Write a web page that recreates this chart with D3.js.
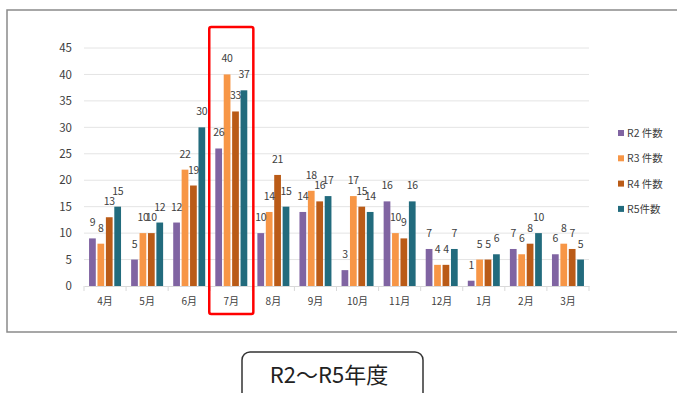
<!DOCTYPE html>
<html>
<head>
<meta charset="utf-8">
<script src="https://cdn.jsdelivr.net/npm/d3@7"></script>
<style>
    body { margin: 0; background: #fff; }
    text { font-family: "Noto Sans CJK JP", "Noto Sans", sans-serif; fill: #404040; }
</style>
</head>
<body>
<div id="chart-area"></div>
<script>
// months (fiscal year order) and the four series
const months = ["4月", "5月", "6月", "7月", "8月", "9月", "10月", "11月", "12月", "1月", "2月", "3月"];
const seriesNames = ["R2 件数", "R3 件数", "R4 件数", "R5件数"];
const r2 = [9, 5, 12, 26, 10, 14, 3, 16, 7, 1, 7, 6];
const r3 = [8, 10, 22, 40, 14, 18, 17, 10, 4, 5, 6, 8];
const r4 = [13, 10, 19, 33, 21, 16, 15, 9, 4, 5, 8, 7];
const r5 = [15, 12, 30, 37, 15, 17, 14, 16, 7, 6, 10, 5];
const yTicks = [0, 5, 10, 15, 20, 25, 30, 35, 40, 45];
const highlightMonth = "7月";
const footerLabel = "R2～R5年度";

const colors = ["#8064A2", "#F79646", "#BA5B17", "#226B7D"];

class GroupedBars {
    constructor(parentElement) {
        this.parentElement = parentElement;
        this.initVis();
    }

    initVis() {
        let vis = this;
        vis.width = 677;
        vis.height = 393;

        vis.svg = d3.select("#" + vis.parentElement).append("svg")
            .attr("width", vis.width)
            .attr("height", vis.height);

        // outer chart frame
        vis.svg.append("rect")
            .attr("x", 7).attr("y", 10)
            .attr("width", 690).attr("height", 322)
            .attr("fill", "none")
            .attr("stroke", "#8a8a8a")
            .attr("stroke-width", 1.5);

        // scales
        vis.x0 = d3.scaleBand().domain(months).range([84, 589]);
        vis.x1 = d3.scaleBand().domain(seriesNames)
            .range([vis.x0.bandwidth() * 0.12, vis.x0.bandwidth() * 0.88])
            .paddingInner(0.2);
        vis.y = d3.scaleLinear().domain([0, 45]).range([286, 48]);

        vis.wrangleData();
    }

    wrangleData() {
        let vis = this;
        let all = [r2, r3, r4, r5];
        vis.displayData = months.map((m, i) => ({
            month: m,
            values: seriesNames.map((s, j) => ({series: s, value: all[j][i], color: colors[j]}))
        }));
        vis.updateVis();
    }

    updateVis() {
        let vis = this;

        // gridlines
        vis.svg.append("g")
            .attr("class", "grid")
            .selectAll("line")
            .data(yTicks.slice(1))
            .join("line")
            .attr("x1", 84).attr("x2", 589)
            .attr("y1", d => vis.y(d)).attr("y2", d => vis.y(d))
            .attr("stroke", "#e4e4e4")
            .attr("stroke-width", 1);

        // y axis labels, no line
        let yAxis = d3.axisLeft(vis.y).tickValues(yTicks).tickSize(0).tickPadding(12);
        let gy = vis.svg.append("g")
            .attr("transform", "translate(84,0)")
            .call(yAxis);
        gy.select(".domain").remove();
        gy.selectAll("text")
            .style("font-size", "11.5px")
            .attr("fill", "#404040");

        // x axis with ticks at the category boundaries
        let xAxis = d3.axisBottom(vis.x0).tickSize(0).tickPadding(12);
        let gx = vis.svg.append("g")
            .attr("transform", "translate(0," + vis.y(0) + ")")
            .call(xAxis);
        gx.select(".domain").attr("stroke", "#d9d9d9");
        gx.selectAll("text")
            .style("font-size", "10px")
            .attr("fill", "#404040");
        gx.selectAll(".boundary")
            .data(months.concat(["end"]))
            .join("line")
            .attr("class", "boundary")
            .attr("x1", (d, i) => 84 + i * vis.x0.step())
            .attr("x2", (d, i) => 84 + i * vis.x0.step())
            .attr("y1", 0).attr("y2", 5)
            .attr("stroke", "#d9d9d9");

        // bars
        let groups = vis.svg.append("g")
            .selectAll(".month")
            .data(vis.displayData)
            .join("g")
            .attr("class", "month")
            .attr("transform", d => "translate(" + vis.x0(d.month) + ",0)");

        groups.selectAll("rect")
            .data(d => d.values)
            .join("rect")
            .attr("x", d => vis.x1(d.series))
            .attr("y", d => vis.y(d.value))
            .attr("width", vis.x1.bandwidth())
            .attr("height", d => vis.y(0) - vis.y(d.value))
            .attr("fill", d => d.color);

        // data labels (they crowd each other in the original too)
        groups.selectAll("text")
            .data(d => d.values)
            .join("text")
            .attr("x", d => vis.x1(d.series) + vis.x1.bandwidth() / 2)
            .attr("y", d => vis.y(d.value) - 12)
            .attr("text-anchor", "middle")
            .style("font-size", "10.5px")
            .style("letter-spacing", "-0.3px")
            .text(d => d.value);

        // legend
        let legend = vis.svg.append("g")
            .selectAll("g")
            .data(seriesNames)
            .join("g")
            .attr("transform", (d, i) => "translate(618," + (133 + i * 25.3) + ")");
        legend.append("rect")
            .attr("x", 0).attr("y", -3)
            .attr("width", 6).attr("height", 6)
            .attr("fill", (d, i) => colors[i]);
        legend.append("text")
            .attr("x", 9).attr("y", 4)
            .style("font-size", "10.5px")
            .text(d => d);

        // red highlight box around July
        vis.svg.append("rect")
            .attr("x", vis.x0(highlightMonth) - 1)
            .attr("y", 27)
            .attr("width", vis.x0.bandwidth() + 2)
            .attr("height", 287)
            .attr("rx", 2)
            .attr("fill", "none")
            .attr("stroke", "#ff0000")
            .attr("stroke-width", 2.5);

        // footer label box
        vis.svg.append("rect")
            .attr("x", 242).attr("y", 352)
            .attr("width", 181).attr("height", 60)
            .attr("rx", 8)
            .attr("fill", "#fff")
            .attr("stroke", "#333")
            .attr("stroke-width", 1.5);
        vis.svg.append("text")
            .attr("x", 329).attr("y", 383)
            .attr("text-anchor", "middle")
            .style("font-size", "22px")
            .style("fill", "#222")
            .text(footerLabel);
    }
}

new GroupedBars("chart-area");
</script>
</body>
</html>
